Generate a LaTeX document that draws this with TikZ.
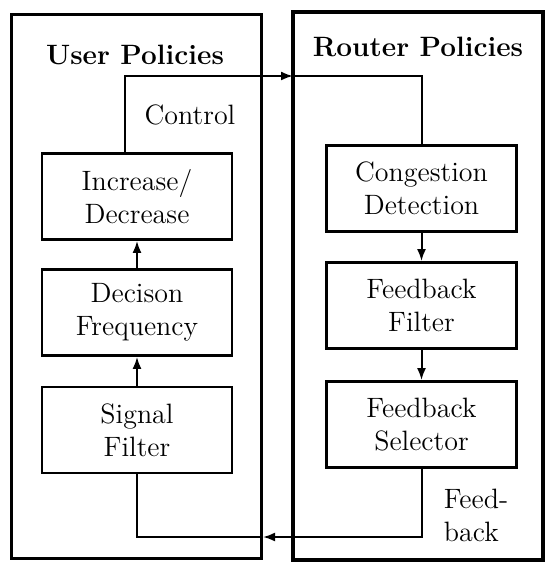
\documentclass[tikz,border=0pt]{standalone}
\usepackage{tikz}
\usetikzlibrary{calc}
\usetikzlibrary{positioning,arrows.meta}

\begin{document}
\begin{tikzpicture}[x=0.5pt,y=-0.5pt,>={Latex[length=6pt,width=4.5pt]},
        policy/.style={draw,line width=1.6pt,minimum width=125pt,minimum height=272pt,inner sep=0pt},
        block/.style={draw,line width=1.4pt,minimum width=95pt,minimum height=43pt,align=center,
            font=\fontsize{14}{16.5}\selectfont},
        conn/.style={line width=1pt},
        lbl/.style={font=\fontsize{14}{16.5}\selectfont,align=left}]
        \useasboundingbox (0,0) rectangle (547,566);

        % outer boxes
        \node[policy] (user) at (136.5,286.5) {};
        \node[policy,minimum height=274pt] (router) at (418,286) {};
        \node[font=\fontsize{14}{16}\selectfont\bfseries] (usert) at (135,55) {User Policies};
        \node[font=\fontsize{14}{16}\selectfont\bfseries] (routert) at (418,47) {Router Policies};

        % user side
        \node[block] (inc) at (137,196.5) {Increase/\\Decrease};
        \node[block] (dec) at (137,312.5) {Decison\\Frequency};
        \node[block] (sig) at (137,430) {Signal\\Filter};

        % router side
        \node[block] (cong) at (421.5,188.5) {Congestion\\Detection};
        \node[block] (ffilt) at (421.5,305.5) {Feedback\\Filter};
        \node[block] (sel) at (421.5,424.5) {Feedback\\Selector};

        \draw[conn,->] (sig) -- (dec);
        \draw[conn,->] (dec) -- (inc);
        \draw[conn,->] (cong) -- (ffilt);
        \draw[conn,->] (ffilt) -- (sel);

        % control and feedback loops
        \coordinate (ctlin) at (293,76);
        \coordinate (fbin) at (263,537);
        \draw[conn,->] ([xshift=-6pt]inc.north) |- (ctlin);
        \draw[conn] (ctlin) -| (cong.north);
        \draw[conn,->] (sel.south) |- (fbin);
        \draw[conn] (fbin) -| (sig.south);

        \node[lbl] (ctl) at (190,115) {Control};
        \node[lbl] (fb) at (476,515) {Feed-\\back};
    \end{tikzpicture}
\end{document}
